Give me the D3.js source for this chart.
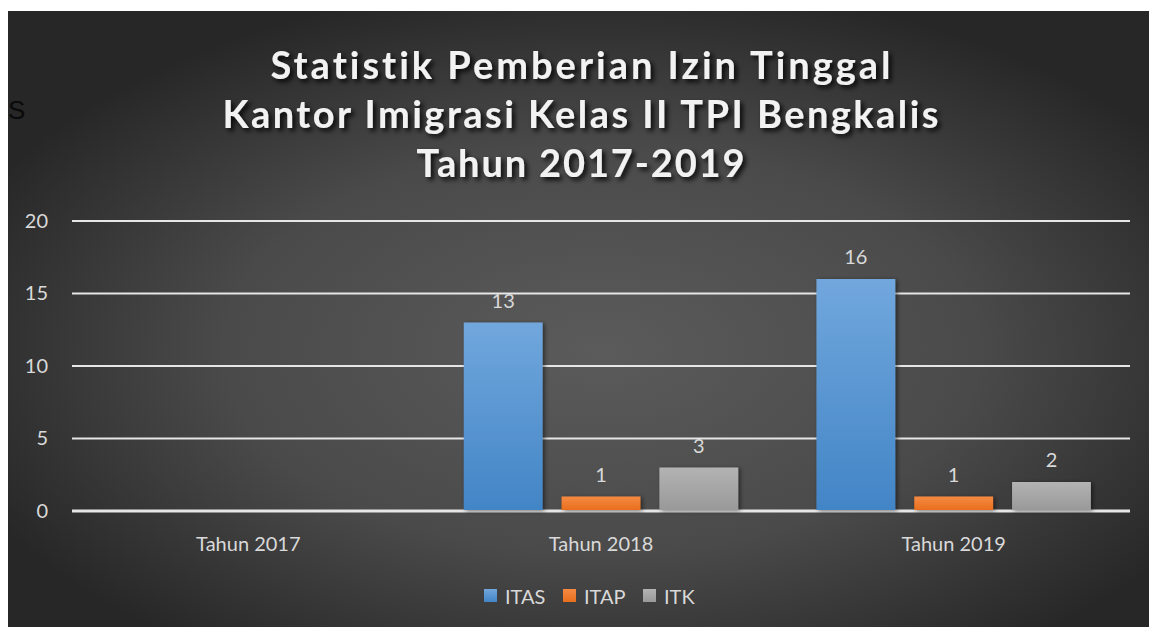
<!DOCTYPE html>
<html>
<head>
<meta charset="utf-8">
<script src="https://cdn.jsdelivr.net/npm/d3@7"></script>
<style>
  html, body { margin: 0; padding: 0; background: #fff; }
  svg { display: block; }
  text { font-variant-ligatures: none; }
</style>
</head>
<body>
<div id="chart"></div>
<script>
const categories = ['Tahun 2017', 'Tahun 2018', 'Tahun 2019']
const series = ['ITAS', 'ITAP', 'ITK']
const itas = [null, 13, 16]
const itap = [null, 1, 1]
const itk = [null, 3, 2]
const yTicks = [0, 5, 10, 15, 20]
const titleLines = [
  'Statistik  Pemberian  Izin  Tinggal',
  'Kantor  Imigrasi  Kelas  II  TPI Bengkalis',
  'Tahun 2017-2019'
]

const width = 1149
const height = 627
const margin = { top: 221, left: 72, right: 19, bottom: 116 }

const seriesValues = { ITAS: itas, ITAP: itap, ITK: itk }
const colors = {
  ITAS: ['#71a7dd', '#4285c6'],
  ITAP: ['#f58a42', '#e86f1d'],
  ITK: ['#b3b3b3', '#999999']
}
const font = 'Lato, "Open Sans", sans-serif'

const svg = d3
  .select('#chart')
  .append('svg')
  .attr('width', width)
  .attr('height', height)

const defs = svg.append('defs')

const bg = defs
  .append('radialGradient')
  .attr('id', 'bg')
  .attr('cx', '52%')
  .attr('cy', '55%')
  .attr('r', '60%')
bg.append('stop').attr('offset', '0%').attr('stop-color', '#5b5b5b')
bg.append('stop').attr('offset', '55%').attr('stop-color', '#4a4a4a')
bg.append('stop').attr('offset', '100%').attr('stop-color', '#272727')

series.forEach(s => {
  const g = defs
    .append('linearGradient')
    .attr('id', 'grad-' + s)
    .attr('x1', 0).attr('y1', 0).attr('x2', 0).attr('y2', 1)
  g.append('stop').attr('offset', '0%').attr('stop-color', colors[s][0])
  g.append('stop').attr('offset', '100%').attr('stop-color', colors[s][1])
})

const shadow = defs.append('filter').attr('id', 'shadow')
  .attr('x', '-10%').attr('y', '-30%').attr('width', '130%').attr('height', '170%')
shadow.append('feDropShadow')
  .attr('dx', 3).attr('dy', 3).attr('stdDeviation', 2.5)
  .attr('flood-color', '#000').attr('flood-opacity', 0.9)

const barShadow = defs.append('filter').attr('id', 'barshadow')
  .attr('x', '-20%').attr('y', '-20%').attr('width', '140%').attr('height', '140%')
barShadow.append('feDropShadow')
  .attr('dx', 2).attr('dy', 1).attr('stdDeviation', 2)
  .attr('flood-color', '#000').attr('flood-opacity', 0.5)

// background panel
svg
  .append('rect')
  .attr('x', 8)
  .attr('y', 11)
  .attr('width', width - 8)
  .attr('height', height - 11)
  .attr('fill', 'url(#bg)')

// stray letter at left
svg
  .append('text')
  .attr('x', 8)
  .attr('y', 119)
  .text('S')
  .style('font-family', 'Liberation Sans, Arial, sans-serif')
  .style('font-size', '26px')
  .attr('fill', '#0a0a0a')

// title
const titleY = [79, 128, 177]
const titleW = [620, 716, 328]
svg
  .append('g')
  .attr('filter', 'url(#shadow)')
  .selectAll('text')
  .data(titleLines)
  .enter()
  .append('text')
  .attr('x', width / 2 + 6)
  .attr('y', (d, i) => titleY[i])
  .attr('text-anchor', 'middle')
  .attr('textLength', (d, i) => titleW[i])
  .attr('lengthAdjust', 'spacing')
  .text(d => d)
  .style('font-family', font)
  .style('font-weight', 700)
  .style('font-size', '38px')
  .attr('fill', '#f2f2f2')

const x0 = d3
  .scaleBand()
  .domain(categories)
  .range([margin.left, width - margin.right])

const x1 = d3
  .scaleBand()
  .domain(series)
  .range([0, x0.bandwidth()])
  .paddingInner(0.194)
  .paddingOuter(0.4)

const y = d3
  .scaleLinear()
  .domain([0, 20])
  .range([height - margin.bottom, margin.top])

// gridlines
svg
  .append('g')
  .selectAll('line')
  .data(yTicks)
  .enter()
  .append('line')
  .attr('x1', margin.left)
  .attr('x2', width - margin.right)
  .attr('y1', d => y(d))
  .attr('y2', d => y(d))
  .attr('stroke', '#e6e6e6')
  .attr('stroke-width', d => (d === 0 ? 3 : 2))

// y axis labels
const yAxis = svg
  .append('g')
  .attr('transform', `translate(${margin.left - 24},0)`)
  .call(d3.axisLeft(y).tickValues(yTicks).tickSize(0).tickPadding(0))
yAxis.select('.domain').remove()
yAxis
  .selectAll('text')
  .attr('fill', '#d9d9d9')
  .style('font-family', font)
  .style('font-size', '20px')

// x axis labels
const xAxis = svg
  .append('g')
  .attr('transform', `translate(0,${y(0) + 26})`)
  .call(d3.axisBottom(x0).tickSize(0).tickPadding(0))
xAxis.select('.domain').remove()
xAxis
  .selectAll('text')
  .attr('fill', '#d9d9d9')
  .style('font-family', font)
  .style('font-size', '20px')

// bars
const rows = categories.map((c, i) => ({
  category: c,
  values: series.map(s => ({ key: s, value: seriesValues[s][i] }))
}))

const groups = svg
  .selectAll('.group')
  .data(rows)
  .enter()
  .append('g')
  .attr('class', 'group')
  .attr('transform', d => `translate(${x0(d.category)},0)`)

groups
  .selectAll('rect')
  .data(d => d.values.filter(v => v.value != null))
  .enter()
  .append('rect')
  .attr('x', d => x1(d.key))
  .attr('width', x1.bandwidth())
  .attr('y', d => y(d.value))
  .attr('height', d => y(0) - y(d.value) - 1)
  .attr('fill', d => `url(#grad-${d.key})`)
  .attr('filter', 'url(#barshadow)')

groups
  .selectAll('.label')
  .data(d => d.values.filter(v => v.value != null))
  .enter()
  .append('text')
  .attr('class', 'label')
  .attr('x', d => x1(d.key) + x1.bandwidth() / 2)
  .attr('y', d => y(d.value) - 15)
  .attr('text-anchor', 'middle')
  .text(d => d.value)
  .attr('fill', '#d9d9d9')
  .style('font-family', font)
  .style('font-size', '20px')

// legend
const legendX = [484, 563, 643]
const legend = svg
  .append('g')
  .selectAll('g')
  .data(series)
  .enter()
  .append('g')
  .attr('transform', (d, i) => `translate(${legendX[i]},589)`)
legend
  .append('rect')
  .attr('width', 13)
  .attr('height', 13)
  .attr('fill', d => `url(#grad-${d})`)
legend
  .append('text')
  .attr('x', 21)
  .attr('y', 15)
  .text(d => d)
  .attr('fill', '#d9d9d9')
  .style('font-family', font)
  .style('font-size', '20px')
</script>
</body>
</html>
